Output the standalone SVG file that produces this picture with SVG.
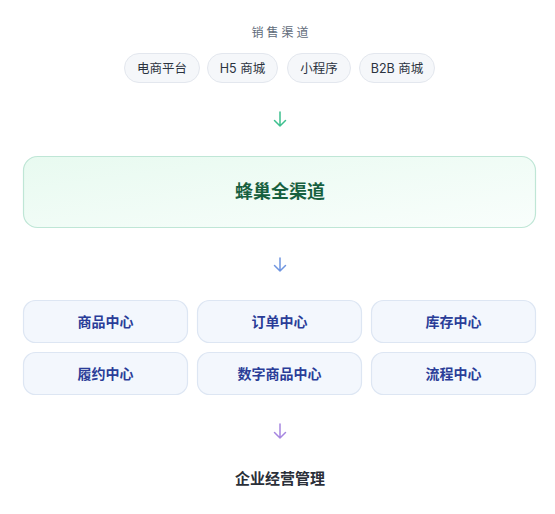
<svg xmlns="http://www.w3.org/2000/svg" width="555" height="514" viewBox="0 0 555 514">
<defs>
<style>
text{font-family:"Inter","Noto Sans CJK SC",sans-serif;text-anchor:middle}
.title{font-size:12px;fill:#5f6b7a;letter-spacing:3px}
.pill rect{fill:#f5f7fa;stroke:#e3e7ee;stroke-width:1}
.pill text{font-size:12.5px;fill:#2b3340}
.core rect{fill:url(#g);stroke:#bfe6d6;stroke-width:1.2}
.core text{font-size:18px;font-weight:700;fill:#17603f}
.mod rect{fill:#f3f7fd;stroke:#dde6f3;stroke-width:1.2}
.mod text{font-size:14px;font-weight:700;fill:#2a3d98}
.foot{font-size:15px;font-weight:700;fill:#2a2f38}
.arr{fill:none;stroke-width:1.5;stroke-linecap:round;stroke-linejoin:round}
</style>
<linearGradient id="g" x1="0" y1="0" x2="1" y2="1">
<stop offset="0" stop-color="#e8faf0"/>
<stop offset="1" stop-color="#f9fefc"/>
</linearGradient>
</defs>
<rect width="555" height="514" fill="#ffffff"/>
<text class="title" x="281.5" y="37">销售渠道</text>
<g id="channels">
<g id="ch1" class="pill"><rect x="124.5" y="53.5" width="75" height="29" rx="14.5"/><text x="162" y="72.5">电商平台</text></g>
<g id="ch2" class="pill"><rect x="207.5" y="53.5" width="70" height="29" rx="14.5"/><text x="242.5" y="72.5">H5 商城</text></g>
<g id="ch3" class="pill"><rect x="287.5" y="53.5" width="63" height="29" rx="14.5"/><text x="319" y="72.5">小程序</text></g>
<g id="ch4" class="pill"><rect x="359.5" y="53.5" width="75" height="29" rx="14.5"/><text x="397" y="72.5">B2B 商城</text></g>
</g>
<g id="connectors">
<path class="arr" stroke="#3ec08f" d="M280 112V126M274.5 120.5L280 126L285.5 120.5"/>
<path class="arr" stroke="#6f95e0" d="M280 258V271M274.5 265.5L280 271L285.5 265.5"/>
<path class="arr" stroke="#a686e0" d="M280 424V438M274.5 432.5L280 438L285.5 432.5"/>
</g>
<g id="core" class="core"><rect x="23.5" y="156.5" width="512" height="71" rx="14"/><text x="280" y="198">蜂巢全渠道</text></g>
<g id="modules">
<g id="m1" class="mod"><rect x="23.5" y="300.5" width="164" height="42" rx="12"/><text x="105.5" y="326.5">商品中心</text></g>
<g id="m2" class="mod"><rect x="197.5" y="300.5" width="164" height="42" rx="12"/><text x="279.5" y="326.5">订单中心</text></g>
<g id="m3" class="mod"><rect x="371.5" y="300.5" width="164" height="42" rx="12"/><text x="453.5" y="326.5">库存中心</text></g>
<g id="m4" class="mod"><rect x="23.5" y="352.5" width="164" height="42" rx="12"/><text x="105.5" y="378.5">履约中心</text></g>
<g id="m5" class="mod"><rect x="197.5" y="352.5" width="164" height="42" rx="12"/><text x="279.5" y="378.5">数字商品中心</text></g>
<g id="m6" class="mod"><rect x="371.5" y="352.5" width="164" height="42" rx="12"/><text x="453.5" y="378.5">流程中心</text></g>
</g>
<g id="enterprise"><text class="foot" x="280" y="484">企业经营管理</text></g>
</svg>
